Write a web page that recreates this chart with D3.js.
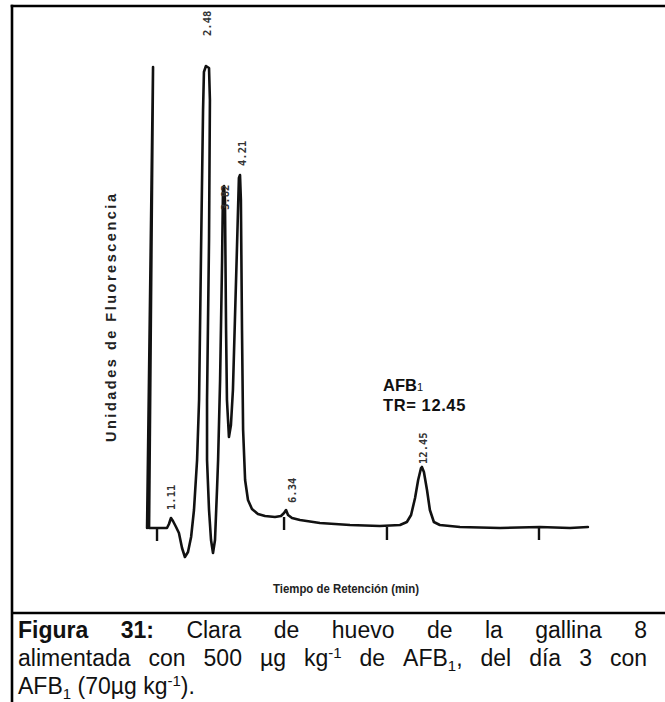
<!DOCTYPE html>
<html><head><meta charset="utf-8">
<script src="https://cdn.jsdelivr.net/npm/d3@7"></script>
<style>html,body{margin:0;padding:0;background:#fff;} svg{display:block;}</style>
</head><body>
<svg id="c" width="665" height="702"></svg>
<script>
// ---- data (time in min, signal in fluorescence units) ----
const timeMin = [0.03,0.30,0.12,0.48,0.93,1.02,1.11,1.20,1.34,1.47,1.61,1.74,1.88,2.02,2.15,2.29,2.38,2.47,2.56,2.60,2.69,2.83,2.87,2.83,2.74,2.74,2.83,2.92,3.01,3.10,3.19,3.24,3.33,3.42,3.46,3.51,3.55,3.60,3.64,3.73,3.82,3.91,4.00,4.09,4.18,4.23,4.27,4.32,4.37,4.46,4.59,4.77,5.04,5.36,5.81,6.08,6.22,6.31,6.40,6.58,6.94,7.84,9.20,10.55,11.46,11.77,11.96,12.14,12.28,12.41,12.45,12.54,12.68,12.81,12.99,13.26,14.17,15.98,17.78,19.14,19.95];
const signal  = [-1,460,-1,-1,-1,3,9,6,0,-6,-21,-30,-25,-10,17,67,127,277,417,455,461,459,427,287,127,67,17,-13,-26,-13,37,67,147,267,337,341,327,197,127,90,102,137,207,277,349,352,327,197,97,47,27,18,13,11,10,11,14,17,12,9,7,4,2,1,2,5,12,29,47,59,60,55,37,17,5,2,0,-1,0,-1,0];
const tickTimes  = [0.48, 6.22, 10.87, 17.74];
const tickLevels = [-1, 10, 0, 0];
const peakLabels     = ["1.11","2.48","3.82","4.21","6.34","12.45"];
const peakLabelTime  = [1.11, 2.74, 3.55, 4.32, 6.58, 12.50];
const peakLabelLevel = [17, 491, 317, 361, 24, 63];
const yAxisTitle = "Unidades de Fluorescencia";
const xAxisTitle = "Tiempo de Retención (min)";
const annotLine1 = ["AFB", "1"];
const annotLine2 = "TR= 12.45";
const captionLines = [
  "**Figura** **31:** Clara de huevo de la gallina 8",
  "alimentada con 500 µg kg^{-1} de AFB_{1}, del día 3 con",
  "AFB_{1} (70µg kg^{-1})."
];

// ---- drawing ----
const svg = d3.select('#c');
svg.append('rect').attr('width',665).attr('height',702).attr('fill','#fff');

// frame
const frame = svg.append('g').attr('stroke','#000').attr('stroke-width',2.6).attr('fill','none');
frame.append('line').attr('x1',12).attr('y1',4.7).attr('x2',12).attr('y2',702);
frame.append('line').attr('x1',10.7).attr('y1',6).attr('x2',665).attr('y2',6);
frame.append('line').attr('x1',12).attr('y1',613).attr('x2',665).attr('y2',613);

const x = d3.scaleLinear().domain([0,20]).range([146.4,589]);
const y = d3.scaleLinear().domain([0,460]).range([527,67]);

const pts = timeMin.map((t,i)=>[t, signal[i]]);
const line = d3.line().x(d=>x(d[0])).y(d=>y(d[1])).curve(d3.curveLinear);
svg.append('path').datum(pts).attr('d',line)
  .attr('fill','none').attr('stroke','#111').attr('stroke-width',2.6)
  .attr('stroke-linejoin','round').attr('stroke-linecap','round');

// event ticks
svg.append('g').selectAll('line').data(tickTimes).join('line')
  .attr('x1',d=>x(d)).attr('x2',d=>x(d))
  .attr('y1',(d,i)=>y(tickLevels[i])).attr('y2',(d,i)=>y(tickLevels[i])+13)
  .attr('stroke','#111').attr('stroke-width',2.4);

// peak retention labels
svg.append('g').selectAll('text').data(peakLabels).join('text')
  .attr('transform',(d,i)=>`translate(${x(peakLabelTime[i])},${y(peakLabelLevel[i])}) rotate(-90)`)
  .attr('dominant-baseline','central')
  .attr('font-family','"DejaVu Sans Mono", monospace').attr('font-size',10.5)
  .attr('font-weight','bold').attr('fill','#333')
  .text(d=>d);

// axis titles
svg.append('text')
  .attr('transform',`translate(116,318) rotate(-90)`)
  .attr('text-anchor','middle')
  .attr('font-family','"Liberation Sans", Arial, sans-serif').attr('font-weight','bold')
  .attr('font-size',14.5).attr('fill','#222')
  .attr('textLength',248).attr('lengthAdjust','spacing')
  .text(yAxisTitle);
svg.append('text')
  .attr('x',346).attr('y',593).attr('text-anchor','middle')
  .attr('font-family','"Liberation Sans", Arial, sans-serif').attr('font-weight','bold')
  .attr('font-size',13.5).attr('fill','#222')
  .attr('textLength',146).attr('lengthAdjust','spacingAndGlyphs')
  .text(xAxisTitle);

// AFB1 annotation
const a1 = svg.append('text').attr('x',383).attr('y',391)
  .attr('font-family','"Liberation Sans", Arial, sans-serif').attr('font-weight','bold')
  .attr('font-size',16.5).attr('fill','#111');
a1.append('tspan').text(annotLine1[0]);
a1.append('tspan').attr('font-size',11).attr('font-weight','normal').text(annotLine1[1]);
svg.append('text').attr('x',383).attr('y',411)
  .attr('font-family','"Liberation Sans", Arial, sans-serif').attr('font-weight','bold')
  .attr('font-size',16.5).attr('fill','#111').attr('letter-spacing',0.6)
  .text(annotLine2);

// caption
const capY = [638, 666, 694];
const capX0 = 18, capX1 = 647;
function addWord(g, word, yy){
  const t = g.append('text').attr('y',yy)
    .attr('font-family','"Liberation Sans", Arial, sans-serif').attr('font-size',23).attr('fill','#111');
  const toks = word.match(/(\*\*[^*]+\*\*|\^\{[^}]+\}|_\{[^}]+\}|[^*^_]+)/g) || [];
  let shift = 0;
  toks.forEach(tk=>{
    let txt=tk, bold=false, dy=0, small=false;
    if(tk.startsWith('**')){txt=tk.slice(2,-2);bold=true;}
    else if(tk.startsWith('^{')){txt=tk.slice(2,-1);dy=-8;small=true;}
    else if(tk.startsWith('_{')){txt=tk.slice(2,-1);dy=5;small=true;}
    const s = t.append('tspan').text(txt).attr('dy', dy - shift);
    shift = dy;
    if(bold) s.attr('font-weight','bold');
    if(small) s.attr('font-size',15);
  });
  return t;
}
captionLines.forEach((ln,li)=>{
  const g = svg.append('g');
  const words = ln.split(' ');
  const nodes = words.map(w=>addWord(g,w,capY[li]));
  const widths = nodes.map(n=>n.node().getComputedTextLength());
  const total = d3.sum(widths);
  const justify = li < captionLines.length-1;
  const gap = justify ? (capX1-capX0-total)/(words.length-1) : 6.4;
  let cx = capX0;
  nodes.forEach((n,i)=>{ n.attr('x',cx); cx += widths[i] + gap; });
});
</script>
</body></html>
